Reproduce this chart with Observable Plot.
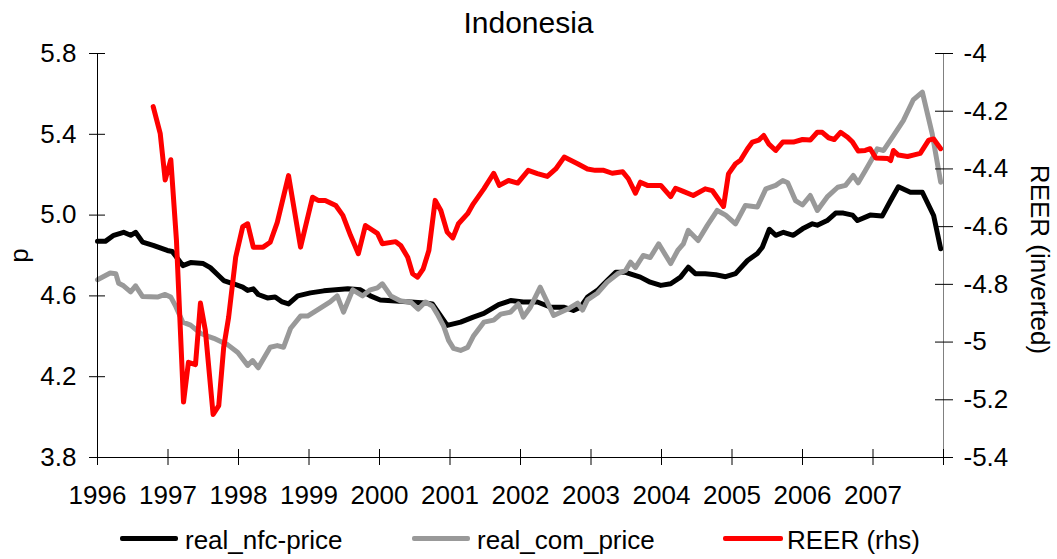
<!DOCTYPE html>
<html>
<head>
<meta charset="utf-8">
<script src="https://cdn.jsdelivr.net/npm/d3@7"></script>
<script src="https://cdn.jsdelivr.net/npm/@observablehq/plot@0.6"></script>
<style>
  html, body { margin: 0; padding: 0; background: #fff; }
  #wrap { width: 1057px; font-family: "Liberation Sans", Arial, sans-serif; color: #000; }
  #title { height: 40px; line-height: 46px; font-size: 30px; text-align: center; }
  #chart svg { display: block; }
  #legend { position: relative; height: 44px; font-size: 26px; }
  .sw { position: absolute; top: 20.5px; height: 5px; border-radius: 2px; }
  .lb { position: absolute; top: 12px; line-height: 26px; white-space: nowrap; }
</style>
</head>
<body>
<div id="wrap">
  <div id="title">Indonesia</div>
  <div id="chart"></div>
  <div id="legend"></div>
</div>
<script>
// ---- data (decimal years) ----
const nfcYear = [1996.00,1996.11,1996.23,1996.37,1996.47,1996.54,1996.64,1996.79,1996.99,1997.06,
  1997.21,1997.32,1997.50,1997.60,1997.72,1997.79,1997.93,1998.06,1998.13,1998.21,
  1998.28,1998.41,1998.52,1998.62,1998.71,1998.84,1999.02,1999.21,1999.38,1999.55,
  1999.73,1999.87,2000.01,2000.23,2000.44,2000.65,2000.75,2000.87,2000.96,2001.15,
  2001.33,2001.48,2001.69,2001.86,2002.04,2002.24,2002.43,2002.61,2002.75,2002.85,
  2002.95,2003.09,2003.23,2003.35,2003.49,2003.70,2003.84,2003.99,2004.13,2004.27,
  2004.38,2004.48,2004.62,2004.77,2004.91,2005.05,2005.22,2005.36,2005.43,2005.53,
  2005.62,2005.73,2005.87,2006.00,2006.14,2006.21,2006.35,2006.47,2006.58,2006.71,
  2006.78,2006.96,2007.13,2007.25,2007.36,2007.53,2007.70,2007.86,2007.96];
const nfcValue = [4.87,4.87,4.90,4.915,4.90,4.915,4.866,4.85,4.825,4.82,
  4.75,4.765,4.76,4.74,4.70,4.676,4.66,4.643,4.627,4.635,
  4.607,4.59,4.595,4.57,4.56,4.60,4.615,4.625,4.63,4.635,
  4.63,4.60,4.58,4.575,4.57,4.565,4.56,4.50,4.454,4.47,
  4.495,4.513,4.557,4.577,4.57,4.57,4.544,4.544,4.528,4.544,
  4.594,4.627,4.676,4.717,4.717,4.693,4.668,4.652,4.66,4.693,
  4.742,4.71,4.71,4.705,4.695,4.71,4.775,4.81,4.841,4.93,
  4.90,4.915,4.90,4.932,4.957,4.95,4.973,5.01,5.01,5.00,
  4.973,5.00,4.995,5.072,5.14,5.113,5.113,4.998,4.833];

const comYear = [1996.00,1996.18,1996.26,1996.30,1996.37,1996.47,1996.54,1996.64,1996.85,1996.96,
  1997.04,1997.11,1997.21,1997.32,1997.46,1997.57,1997.65,1997.77,1997.84,1997.99,
  1998.13,1998.20,1998.28,1998.45,1998.55,1998.64,1998.74,1998.88,1998.98,1999.16,
  1999.30,1999.40,1999.49,1999.62,1999.76,1999.87,1999.97,2000.04,2000.16,2000.30,
  2000.44,2000.55,2000.65,2000.75,2000.82,2000.91,2000.98,2001.05,2001.15,2001.25,
  2001.33,2001.48,2001.62,2001.72,2001.86,2001.97,2002.04,2002.14,2002.28,2002.47,
  2002.67,2002.81,2002.88,2002.95,2003.09,2003.23,2003.38,2003.49,2003.56,2003.63,
  2003.74,2003.84,2003.96,2004.13,2004.23,2004.31,2004.38,2004.52,2004.65,2004.79,
  2004.91,2005.05,2005.19,2005.36,2005.48,2005.62,2005.72,2005.79,2005.90,2006.00,
  2006.11,2006.21,2006.35,2006.50,2006.61,2006.72,2006.79,2006.89,2006.99,2007.06,
  2007.15,2007.29,2007.43,2007.57,2007.70,2007.84,2007.96];
const comValue = [4.68,4.713,4.71,4.663,4.65,4.62,4.65,4.597,4.594,4.607,
  4.594,4.548,4.47,4.455,4.415,4.40,4.39,4.37,4.36,4.32,
  4.256,4.28,4.244,4.346,4.354,4.346,4.44,4.50,4.50,4.54,
  4.57,4.60,4.52,4.63,4.60,4.63,4.64,4.66,4.60,4.575,
  4.57,4.535,4.57,4.55,4.51,4.45,4.38,4.34,4.33,4.345,
  4.40,4.47,4.48,4.51,4.52,4.56,4.495,4.544,4.643,4.503,
  4.535,4.564,4.53,4.58,4.613,4.668,4.71,4.726,4.767,4.74,
  4.80,4.79,4.858,4.76,4.825,4.858,4.924,4.874,4.949,5.023,
  5.00,4.957,5.048,5.04,5.13,5.147,5.171,5.16,5.072,5.05,
  5.097,5.023,5.09,5.138,5.147,5.196,5.16,5.22,5.28,5.328,
  5.32,5.394,5.468,5.57,5.609,5.402,5.163];

const reerYear = [1996.79,1996.89,1996.96,1997.04,1997.12,1997.22,1997.29,1997.39,1997.46,1997.53,
  1997.64,1997.72,1997.79,1997.86,1997.96,1998.06,1998.13,1998.21,1998.35,1998.45,
  1998.55,1998.71,1998.88,1999.05,1999.13,1999.23,1999.38,1999.48,1999.59,1999.70,
  1999.80,1999.97,2000.04,2000.23,2000.30,2000.40,2000.47,2000.54,2000.62,2000.70,
  2000.79,2000.87,2000.96,2001.04,2001.12,2001.25,2001.33,2001.48,2001.62,2001.70,
  2001.83,2001.96,2002.11,2002.24,2002.38,2002.50,2002.62,2002.81,2002.95,2003.06,
  2003.18,2003.30,2003.45,2003.53,2003.63,2003.70,2003.80,2003.99,2004.13,2004.20,
  2004.30,2004.45,2004.62,2004.72,2004.88,2004.95,2005.05,2005.12,2005.22,2005.29,
  2005.38,2005.45,2005.52,2005.62,2005.72,2005.87,2006.00,2006.11,2006.21,2006.28,
  2006.37,2006.45,2006.54,2006.64,2006.71,2006.79,2006.89,2006.96,2007.04,2007.21,
  2007.25,2007.29,2007.36,2007.49,2007.57,2007.67,2007.79,2007.86,2007.96];
const reerValue = [-4.184,-4.278,-4.438,-4.368,-4.648,-5.208,-5.07,-5.078,-4.865,-4.96,
  -5.251,-5.22,-5.018,-4.914,-4.706,-4.60,-4.59,-4.671,-4.671,-4.654,
  -4.585,-4.423,-4.671,-4.498,-4.509,-4.509,-4.527,-4.561,-4.631,-4.694,
  -4.596,-4.623,-4.659,-4.652,-4.665,-4.706,-4.763,-4.775,-4.746,-4.683,
  -4.509,-4.544,-4.619,-4.639,-4.59,-4.555,-4.521,-4.469,-4.415,-4.457,
  -4.44,-4.449,-4.405,-4.416,-4.426,-4.40,-4.359,-4.382,-4.40,-4.405,
  -4.405,-4.415,-4.41,-4.434,-4.484,-4.446,-4.457,-4.457,-4.496,-4.467,
  -4.477,-4.492,-4.469,-4.475,-4.53,-4.417,-4.382,-4.37,-4.33,-4.307,
  -4.30,-4.284,-4.313,-4.336,-4.307,-4.307,-4.298,-4.30,-4.273,-4.273,
  -4.292,-4.298,-4.273,-4.29,-4.307,-4.338,-4.336,-4.33,-4.362,-4.364,
  -4.371,-4.336,-4.352,-4.357,-4.352,-4.346,-4.30,-4.296,-4.33];

const yearTicks = [1996,1997,1998,1999,2000,2001,2002,2003,2004,2005,2006,2007,2008];
const leftTicks = [3.8,4.2,4.6,5.0,5.4,5.8];
const rightTicks = [-4,-4.2,-4.4,-4.6,-4.8,-5,-5.2,-5.4];
const rightLabels = ["-4","-4.2","-4.4","-4.6","-4.8","-5","-5.2","-5.4"];
const seriesNames = ["real_nfc-price","real_com_price","REER (rhs)"];
const seriesColors = ["#000000","#999999","#ff0000"];

// ---- right (inverted) axis mapped onto the left scale ----
const leftDomain = [3.8, 5.8];
const rightDomain = [-5.4, -4]; // bottom -> top (inverted display)
const toLeft = r => leftDomain[0] + (r - rightDomain[0]) * (leftDomain[1] - leftDomain[0]) / (rightDomain[1] - rightDomain[0]);
const rightPos = rightTicks.map(toLeft);

const nfc = nfcYear.map((x, i) => ({x, y: nfcValue[i]}));
const com = comYear.map((x, i) => ({x, y: comValue[i]}));
const reer = reerYear.map((x, i) => ({x, y: toLeft(reerValue[i])}));

const chart = Plot.plot({
  width: 1057,
  height: 475,
  marginTop: 13,
  marginBottom: 58,
  marginLeft: 97,
  marginRight: 114,
  style: {fontFamily: '"Liberation Sans", Arial, sans-serif', fontSize: "26px", color: "#000", background: "#fff", overflow: "visible"},
  x: {domain: [1996, 2008]},
  y: {domain: leftDomain},
  marks: [
    Plot.line(nfc, {x: "x", y: "y", stroke: seriesColors[0], strokeWidth: 5, strokeLinejoin: "round"}),
    Plot.line(com, {x: "x", y: "y", stroke: seriesColors[1], strokeWidth: 5, strokeLinejoin: "round"}),
    Plot.line(reer, {x: "x", y: "y", stroke: seriesColors[2], strokeWidth: 5, strokeLinejoin: "round"}),
    Plot.ruleX([1996], {stroke: "#000", strokeWidth: 1}),
    Plot.ruleX([2008], {stroke: "#808080", strokeWidth: 1}),
    Plot.ruleY([3.8], {stroke: "#000", strokeWidth: 1}),
    Plot.axisX({ticks: yearTicks, tickFormat: d => d === 2008 ? "" : String(d), tickSize: 16, dy: -8, tickPadding: 20, label: null, fontSize: 26}),
    Plot.axisY({anchor: "left", ticks: leftTicks, tickFormat: d3.format(".1f"), tickSize: 16, dx: 8, tickPadding: 13, label: null, fontSize: 26}),
    Plot.axisY({anchor: "right", ticks: rightPos, tickFormat: d => rightLabels[rightPos.findIndex(p => Math.abs(p - d) < 1e-9)], tickSize: 18, dx: -9, tickPadding: 11, label: null, fontSize: 26}),
    Plot.text(["p"], {frameAnchor: "left", text: d => d, rotate: -90, textAnchor: "middle", dx: -78, fontSize: 26}),
    Plot.text(["REER (inverted)"], {frameAnchor: "right", text: d => d, rotate: 90, textAnchor: "middle", dx: 96, dy: 4, fontSize: 26})
  ]
});
document.getElementById("chart").appendChild(chart);

// ---- legend ----
const legend = document.getElementById("legend");
const swX = [120, 412, 723];
const swW = [58, 58, 60];
const lbX = [185, 477, 787];
seriesNames.forEach((name, i) => {
  const s = document.createElement("span");
  s.className = "sw";
  s.style.left = swX[i] + "px";
  s.style.width = swW[i] + "px";
  s.style.background = seriesColors[i];
  legend.appendChild(s);
  const t = document.createElement("span");
  t.className = "lb";
  t.style.left = lbX[i] + "px";
  t.textContent = name;
  legend.appendChild(t);
});
</script>
</body>
</html>
